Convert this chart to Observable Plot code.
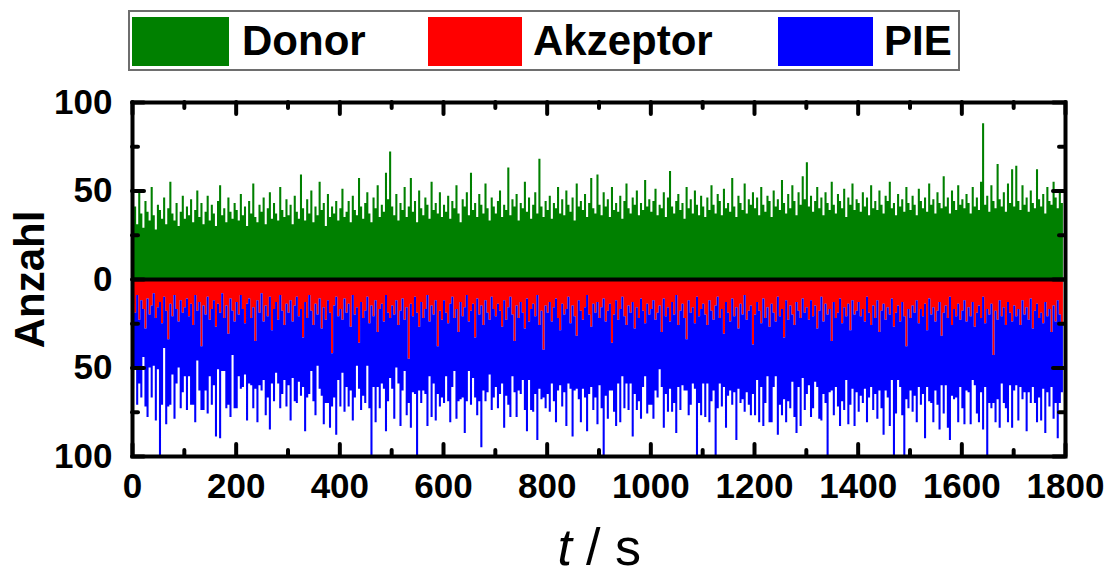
<!DOCTYPE html>
<html>
<head>
<meta charset="utf-8">
<script src="https://cdn.jsdelivr.net/npm/d3@7"></script>
<script src="https://cdn.jsdelivr.net/npm/@observablehq/plot@0.6"></script>
<style>
  html, body { margin: 0; padding: 0; background: #fff; }
  body { font-family: "Liberation Sans", Arial, sans-serif; }
  #wrap { position: relative; width: 1111px; height: 576px; overflow: hidden; }
  #legendArea { position: relative; width: 1111px; height: 80px; }
  #legend { position: absolute; left: 128px; top: 10px; width: 828px; height: 57px; border: 2px solid #6e6e6e; }
  .sw { position: absolute; top: 5px; height: 49px; }
  .lab { position: absolute; top: 5px; font-size: 42px; font-weight: bold; line-height: normal; color: #000; white-space: nowrap; }
  #chart svg { display: block; }
</style>
</head>
<body>
<div id="wrap">
  <div id="legendArea"><div id="legend"></div></div>
  <div id="chart"></div>
</div>
<script>
// ---- data (counts per 4 s bin) ----
const binWidth = 4; // s
const donor = [
  34,41,31,49,37,29,44,38,33,52,36,28,42,39,34,46,31,40,55,37,33,43,30,38,47,
  34,41,36,45,32,39,50,35,43,31,38,47,33,42,37,30,44,53,36,40,32,46,38,34,43,
  39,33,48,36,41,30,44,37,54,35,32,42,38,46,31,40,49,34,43,37,33,52,39,35,45,
  36,42,31,47,38,34,59,40,33,45,37,50,32,41,36,55,39,43,30,48,35,41,37,44,33,
  40,51,35,38,44,32,47,39,36,57,41,34,43,49,37,32,46,40,53,35,42,38,60,45,72,
  41,36,48,33,43,39,52,35,41,57,38,44,32,50,40,36,46,42,34,55,39,43,37,49,35,
  42,38,47,34,44,40,53,37,32,45,41,49,36,60,39,43,35,48,42,37,54,40,33,46,41,
  37,44,50,35,42,39,63,36,45,41,48,33,43,40,55,38,46,34,42,49,37,68,41,35,44,
  39,47,34,43,40,52,37,45,36,50,42,38,46,33,54,41,44,39,48,35,43,57,40,37,59,
  42,36,49,41,45,35,52,39,43,38,47,34,44,54,40,37,46,42,50,36,43,39,56,41,45,
  38,44,51,36,42,40,49,35,46,61,41,37,44,48,39,43,34,52,40,45,37,50,42,36,47,
  41,35,46,39,53,42,37,48,44,36,51,40,43,38,57,41,35,47,43,39,54,37,45,42,49,
  40,46,36,52,42,38,47,44,35,50,41,45,39,56,43,37,48,40,53,44,36,49,42,58,45,
  66,41,47,38,44,52,40,46,36,49,43,39,55,42,37,48,44,40,51,35,46,42,54,39,45,
  43,38,49,41,46,36,53,40,44,39,50,42,37,47,44,55,40,43,36,48,41,45,38,52,43,
  39,47,42,36,51,44,40,46,38,54,42,45,37,49,43,40,58,41,46,37,50,44,39,53,42,
  45,40,48,43,37,52,41,46,39,55,88,42,47,38,53,44,40,65,45,41,49,38,54,43,62,
  41,64,44,39,53,42,46,38,50,43,40,62,45,41,48,37,52,44,42,55,46,40,49,43,45
];
const akzeptor = [
  14,19,9,23,12,17,28,11,20,15,8,22,16,13,25,10,18,34,14,21,9,17,24,12,19,
  16,11,21,14,26,9,18,13,38,15,20,10,23,17,12,27,14,19,8,22,15,31,11,18,24,
  13,20,9,17,25,14,11,22,16,35,12,19,8,24,15,21,10,29,17,13,23,9,18,26,14,
  19,12,24,15,10,21,17,33,13,22,9,18,26,14,20,11,28,16,23,12,19,42,15,10,21,
  17,23,11,19,14,27,9,20,16,36,13,22,18,10,25,15,21,12,30,17,14,24,9,19,22,
  15,20,12,26,18,11,23,16,45,14,21,10,19,27,13,22,17,9,24,15,20,12,38,18,23,
  12,19,25,14,10,22,17,30,13,21,16,9,24,18,14,33,11,20,15,26,12,19,23,10,17,
  21,14,18,27,12,23,16,10,20,35,15,22,13,19,28,11,24,17,14,21,9,26,18,40,15,
  19,13,24,16,11,22,29,14,20,17,10,25,15,21,32,12,18,23,16,9,20,27,14,19,13,
  22,16,11,24,18,14,36,20,12,23,17,10,21,26,15,19,13,28,16,22,11,18,25,14,20,
  17,12,23,19,15,30,11,21,16,24,13,20,9,26,18,14,22,34,12,19,16,25,10,21,17,
  14,20,26,12,18,23,15,10,22,17,31,13,19,24,11,21,16,28,14,20,9,23,18,15,37,
  20,13,18,25,11,22,16,27,14,19,24,10,21,17,33,12,23,15,20,26,13,18,22,11,19,
  16,23,12,21,15,28,18,10,24,14,20,17,35,13,22,19,11,25,16,21,14,29,12,20,18,
  13,21,17,24,10,19,26,15,22,12,30,18,14,23,16,20,11,27,19,15,24,13,21,38,17,
  22,15,19,12,25,17,21,14,29,11,20,16,24,18,13,32,19,15,22,10,26,17,21,14,23,
  18,12,24,16,21,13,27,19,15,22,10,25,17,20,14,43,18,23,12,21,16,26,13,19,24,
  15,21,17,26,12,20,16,23,11,28,18,14,22,19,25,13,21,17,30,15,24,12,20,26,18
];
const pieCounts = [
  48,31,62,36,55,27,44,67,30,52,41,58,35,87,46,29,64,38,57,33,70,42,26,61,45,
  39,63,34,57,45,72,28,50,36,59,43,66,32,54,48,62,37,71,44,30,58,40,67,25,49,
  60,35,53,44,29,66,48,38,57,27,69,41,55,33,62,46,75,30,52,40,36,64,47,31,58,
  41,68,32,54,60,37,49,28,73,45,56,34,43,63,29,51,38,66,47,58,65,30,52,78,36,
  55,30,64,42,58,36,71,47,33,26,61,44,52,39,48,85,40,69,31,56,45,38,77,50,34,
  47,59,38,33,65,52,29,61,25,70,43,55,84,36,57,41,48,74,31,63,39,68,27,54,44,
  58,36,44,67,51,30,62,39,55,46,71,60,28,53,42,34,66,49,80,37,57,45,31,64,50,
  40,59,47,32,72,43,55,68,35,29,63,41,52,38,46,75,33,57,61,44,82,36,50,27,58,
  46,62,35,53,70,41,31,58,44,66,49,37,74,42,30,56,63,39,51,77,45,34,60,48,69,
  38,57,89,42,61,49,27,55,71,36,64,45,52,33,59,40,76,37,58,47,68,43,30,62,51,
  54,67,40,48,36,31,73,44,59,38,62,50,78,35,56,46,41,29,65,52,43,37,90,49,60,
  45,58,33,69,51,40,85,63,37,55,30,71,47,39,60,43,75,34,56,48,66,41,53,62,28,
  57,44,63,36,72,48,39,54,67,42,31,78,50,60,35,69,46,58,38,52,74,43,61,45,55,
  49,37,66,52,43,33,61,70,41,56,80,47,28,64,39,53,72,44,58,36,68,42,50,63,46,
  62,45,53,38,71,48,35,59,43,67,33,55,74,40,51,63,46,73,57,42,37,64,79,30,56,
  41,60,47,69,36,54,44,76,32,58,50,65,39,53,72,28,57,45,62,81,40,51,46,67,38,
  55,70,39,48,61,44,33,57,66,42,75,36,84,50,59,27,63,45,72,38,54,47,68,41,60,
  48,39,63,35,56,44,70,41,59,33,52,67,45,61,37,74,43,55,31,64,46,78,50,38,57
];
const seriesNames = ["Donor", "Akzeptor", "PIE"];
const seriesColors = ["#008000", "#ff0000", "#0000ff"];
const xTicks = [0, 200, 400, 600, 800, 1000, 1200, 1400, 1600, 1800];
const xMinorTicks = [100, 300, 500, 700, 900, 1100, 1300, 1500, 1700];
const yTicks = [-100, -50, 0, 50, 100];
const yMinorTicks = [-75, -25, 25, 75];
const xDomain = [0, 1800];
const yDomain = [-100, 100];

// ---- legend ----
const legend = document.getElementById("legend");
const swLeft = [2, 298, 648], swWidth = [97, 94, 95], labLeft = [112, 403, 754];
seriesNames.forEach((name, i) => {
  const sw = document.createElement("div");
  sw.className = "sw";
  sw.style.left = swLeft[i] + "px";
  sw.style.width = swWidth[i] + "px";
  sw.style.background = seriesColors[i];
  legend.appendChild(sw);
  const lab = document.createElement("div");
  lab.className = "lab";
  lab.style.left = labLeft[i] + "px";
  lab.textContent = name;
  legend.appendChild(lab);
});

// ---- chart ----
const rows = donor.map((d, i) => ({t: i * binWidth, donor: d, acc: akzeptor[i], pie: pieCounts[i]}));
const W = 1111, H = 496, mt = 22, mb = 120, ml = 132, mr = 46;
const fh = H - mt - mb, fw = W - ml - mr;
const majorLen = 12, minorLen = 6;
const tk = {stroke: "black", strokeWidth: 4, strokeLinecap: "round"};

const chart = Plot.plot({
  width: W, height: H,
  marginTop: mt, marginBottom: mb, marginLeft: ml, marginRight: mr,
  x: {domain: xDomain},
  y: {domain: yDomain},
  style: {fontFamily: "'Liberation Sans', Arial, sans-serif", fontSize: "35px", fontWeight: "bold", color: "black", background: "white", overflow: "visible"},
  marks: [
    Plot.areaY(rows, {x: "t", y1: 0, y2: "donor", curve: "step-after", fill: seriesColors[0], clip: true}),
    Plot.areaY(rows, {x: "t", y1: 0, y2: d => -d.acc, curve: "step-after", fill: seriesColors[1], clip: true}),
    Plot.areaY(rows, {x: "t", y1: d => -d.acc, y2: d => -(d.acc + d.pie), curve: "step-after", fill: seriesColors[2], clip: true}),
    Plot.ruleY([0], {stroke: "black", strokeWidth: 4}),
    // inward ticks: bottom / top
    Plot.tickX(xTicks, {x: d => d, insetTop: fh - majorLen, ...tk}),
    Plot.tickX(xMinorTicks, {x: d => d, insetTop: fh - minorLen, ...tk}),
    Plot.tickX(xTicks, {x: d => d, insetBottom: fh - majorLen, ...tk}),
    Plot.tickX(xMinorTicks, {x: d => d, insetBottom: fh - minorLen, ...tk}),
    // inward ticks: left / right
    Plot.tickY(yTicks, {y: d => d, insetRight: fw - majorLen, ...tk}),
    Plot.tickY(yMinorTicks, {y: d => d, insetRight: fw - minorLen, ...tk}),
    Plot.tickY(yTicks, {y: d => d, insetLeft: fw - majorLen, ...tk}),
    Plot.tickY(yMinorTicks, {y: d => d, insetLeft: fw - minorLen, ...tk}),
    Plot.frame({stroke: "black", strokeWidth: 4}),
    Plot.axisX(xTicks, {tickSize: 0, tickPadding: 17, tickFormat: d => String(d), label: null}),
    Plot.axisY(yTicks, {tickSize: 0, tickPadding: 20, tickFormat: d => String(Math.abs(d)), label: null}),
    Plot.text(["Anzahl"], {text: d => d, frameAnchor: "left", dx: -102, rotate: -90, fontSize: 42, fontWeight: "bold", textAnchor: "middle", lineAnchor: "middle"}),
    Plot.text(["t"], {text: d => d, frameAnchor: "bottom", dx: -27, dy: 92, textAnchor: "end", lineAnchor: "middle", fontSize: 52, fontWeight: "normal", fontStyle: "italic"}),
    Plot.text(["/ s"], {text: d => d, frameAnchor: "bottom", dx: -13, dy: 92, textAnchor: "start", lineAnchor: "middle", fontSize: 52, fontWeight: "normal"})
  ]
});
document.getElementById("chart").appendChild(chart);
</script>
</body>
</html>
